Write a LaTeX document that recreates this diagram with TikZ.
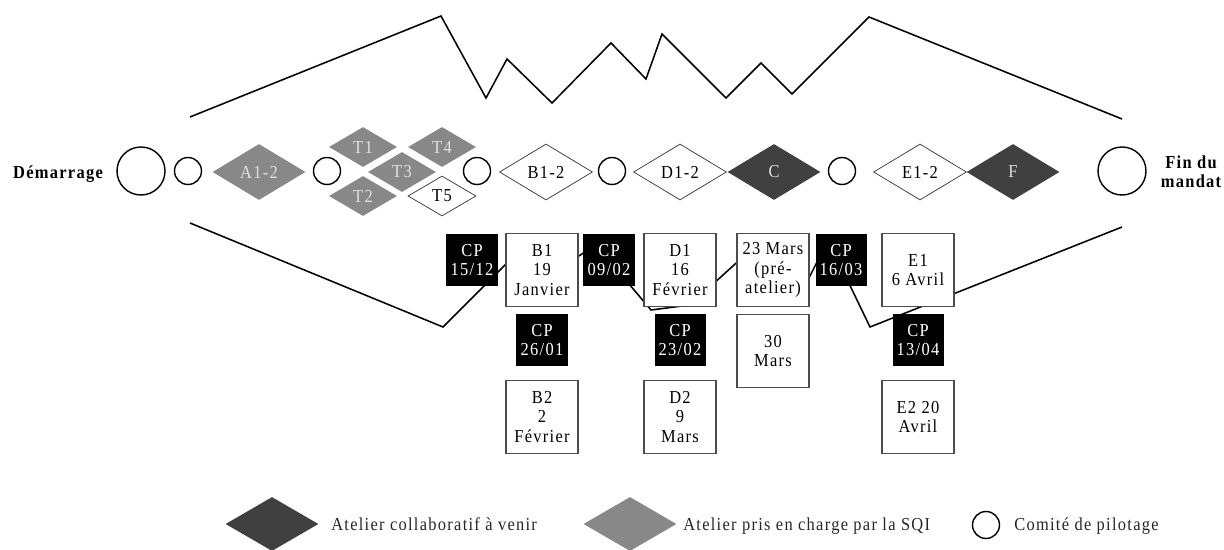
\documentclass[tikz,border=0pt]{standalone}
\usepackage{fontspec}
\setmainfont{Liberation Serif}[LetterSpace=7,FakeStretch=0.9]
\usetikzlibrary{positioning,shapes.geometric}
\definecolor{sqigray}{HTML}{888888}
\definecolor{darkat}{HTML}{404040}
\definecolor{lbl}{HTML}{E2E2E2}

\begin{document}
\begin{tikzpicture}[x=0.025cm,y=-0.025cm,font=\fontsize{13}{13.8}\selectfont,
 trace/.style={line width=1.1pt,line join=miter},
 comite/.style={draw,circle,line width=1pt,inner sep=0pt,minimum size=0.675cm},
 grand/.style={comite,minimum size=1.2cm},
 los/.style={diamond,inner sep=0pt,aspect=1.66,minimum width=2.325cm,minimum height=1.4cm},
 sqi/.style={los,fill=sqigray,text=lbl},
 venir/.style={los,fill=darkat,text=lbl},
 libre/.style={los,draw=black!80,line width=0.5pt,fill=white},
 petit/.style={minimum width=1.7cm,minimum height=1.0cm,aspect=1.7},
 datebox/.style={draw=black!70,line width=0.8pt,fill=white,align=center,inner sep=1pt,minimum width=1.8cm,minimum height=1.825cm},
 cpbox/.style={fill=black,text=white,align=center,inner sep=1pt,minimum size=1.275cm},
 titre/.style={font=\fontsize{13}{13.8}\selectfont\bfseries,align=center},
 leg/.style={anchor=base west,inner sep=0pt,text=black!85}]
\useasboundingbox (0,0) rectangle (1224,550);
% enveloppe du mandat
\draw[trace] (190,117) -- (441,16) -- (486,98) -- (507,59) -- (552,103) -- (611,43) -- (646,79)
 -- (662,34) -- (726,98) -- (761,63) -- (792,94) -- (869,17) -- (1122,119);
\draw[trace] (190,223) -- (443,327) -- (528,242) -- (560,268) -- (596,245) -- (651,310) -- (690,305)
 -- (745,255) -- (800,296) -- (828,240) -- (870,327) -- (1122,227);
% ligne des ateliers
\node[titre,anchor=base] (dem) at (58,179) {Démarrage};
\node[grand] (c0) at (141,171) {};
\node[comite] (c1) at (188,171) {};
\node[sqi] (a12) at (259,172) {A1-2};
\node[comite] (c2) at (327,171) {};
\node[sqi,petit] (t1) at (363,147) {T1};
\node[sqi,petit] (t4) at (442,147) {T4};
\node[sqi,petit] (t3) at (402,172) {T3};
\node[sqi,petit] (t2) at (363,196) {T2};
\node[libre,petit] (t5) at (442,196) {T5};
\node[comite] (c3) at (477,171) {};
\node[libre] (b12) at (546,172) {B1-2};
\node[comite] (c4) at (612,171) {};
\node[libre] (d12) at (680,172) {D1-2};
\node[venir] (cc) at (774,172) {C};
\node[comite] (c5) at (842,171) {};
\node[libre] (e12) at (920,172) {E1-2};
\node[venir] (ff) at (1013,172) {F};
\node[grand] (c6) at (1122,171) {};
\node[titre] (fin) at (1191,172) {Fin du\\mandat};
% dates
\node[cpbox] (cp1) at (472,260) {CP\\15/12};
\node[datebox] (b1) at (542,270) {B1\\19\\Janvier};
\node[cpbox] (cp2) at (609,260) {CP\\09/02};
\node[datebox] (d1) at (680,270) {D1\\16\\Février};
\node[datebox] (m23) at (773,270) {23 Mars\\(pré-\\atelier)};
\node[cpbox] (cp3) at (841,260) {CP\\16/03};
\node[datebox] (e1) at (918,270) {E1\\6 Avril};
\node[cpbox] (cp4) at (542,340) {CP\\26/01};
\node[cpbox] (cp5) at (680,340) {CP\\23/02};
\node[datebox] (m30) at (773,351) {30\\Mars};
\node[cpbox] (cp6) at (918,340) {CP\\13/04};
\node[datebox] (b2) at (542,417) {B2\\2\\Février};
\node[datebox] (d2) at (680,417) {D2\\9\\Mars};
\node[datebox] (e2) at (918,417) {E2 20\\Avril};
% legende
\node[venir,minimum height=1.35cm] (lv) at (272,524) {};
\node[leg] (tv) at (331,530) {Atelier collaboratif à venir};
\node[sqi,minimum height=1.35cm] (ls) at (630,524) {};
\node[leg] (ts) at (683,530) {Atelier pris en charge par la SQI};
\node[comite] (lc) at (986,525) {};
\node[leg] (tc) at (1014,530) {Comité de pilotage};
\end{tikzpicture}
\end{document}
